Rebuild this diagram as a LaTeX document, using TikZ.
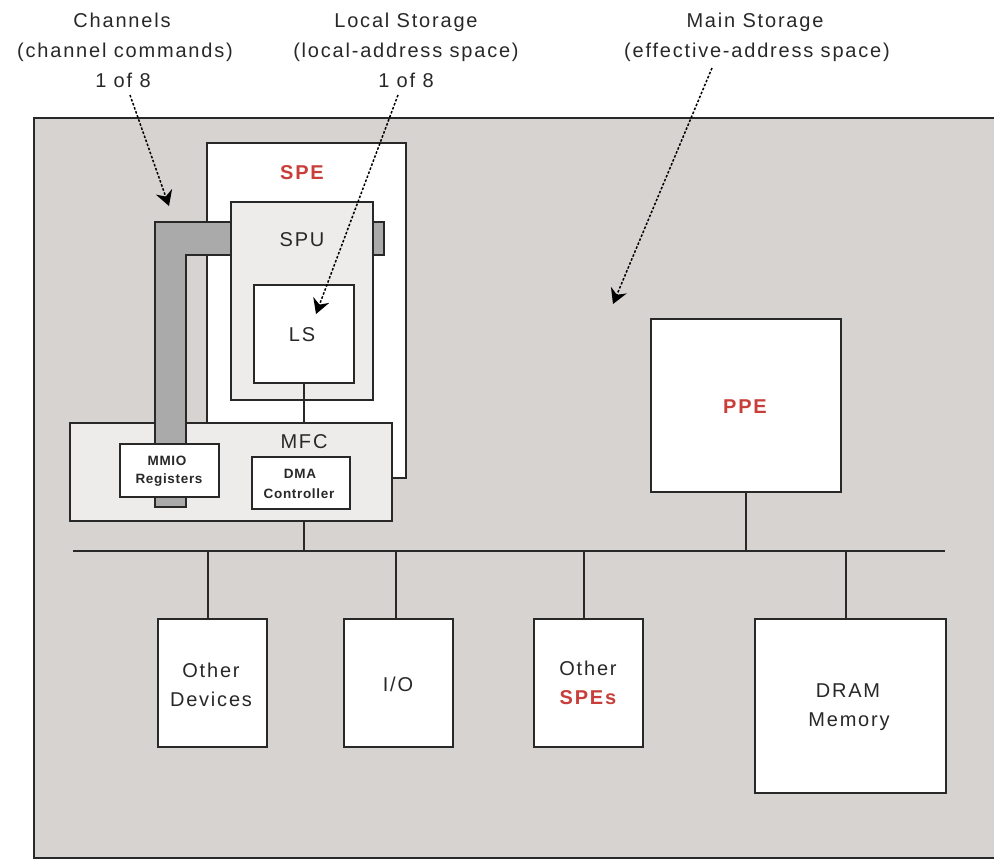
\documentclass[tikz,border=0pt]{standalone}
\usepackage{fontspec}
\setmainfont{Liberation Sans}
\newfontfamily\labfont{Liberation Sans}[LetterSpace=9]
\newfontfamily\smallfont{Liberation Sans}[LetterSpace=5]
\usetikzlibrary{arrows.meta}
\definecolor{bggray}{RGB}{214,211,208}
\definecolor{lightfill}{RGB}{237,236,235}
\definecolor{bargray}{RGB}{170,170,170}
\definecolor{linecol}{RGB}{40,40,40}
\definecolor{textcol}{RGB}{40,40,40}
\definecolor{redtext}{RGB}{200,62,58}
\tikzset{
  box/.style={draw=linecol, line width=1.8pt, rectangle, anchor=north west, inner sep=0pt},
  whitebox/.style={box, fill=white},
  greybox/.style={box, fill=lightfill},
  conn/.style={draw=linecol, line width=1.8pt},
  lab/.style={font=\labfont\fontsize{20}{30}\selectfont, text=textcol, anchor=base, inner sep=0pt},
  redlab/.style={font=\labfont\bfseries\fontsize{20}{30}\selectfont, text=redtext, anchor=base, inner sep=0pt},
  smalllab/.style={font=\smallfont\bfseries\fontsize{13.5}{20}\selectfont, text=textcol, anchor=base, inner sep=0pt},
  dasharrow/.style={draw=black, line width=1.5pt, dash pattern=on 2.5pt off 1.8pt,
     -{Stealth[length=15pt,width=17pt,inset=5pt]}},
}
\begin{document}
\begin{tikzpicture}[x=1pt,y=-1pt]
\useasboundingbox (0,0) rectangle (994,860);
\begin{scope}
\clip (0,0) rectangle (994,860);
% main storage background
\draw[draw=linecol, line width=2pt, fill=bggray] (34,118) rectangle (1010,858);
\end{scope}

% top labels
\node[lab] (ch1) at (122,27) {Channels};
\node[lab] (ch2) at (125,57) {(channel commands)};
\node[lab] (ch3) at (123,87) {1 of 8};
\node[lab] (ls1) at (406,27) {Local Storage};
\node[lab] (ls2) at (406,57) {(local-address space)};
\node[lab] (ls3) at (406,87) {1 of 8};
\node[lab] (ms1) at (755,27) {Main Storage};
\node[lab] (ms2) at (757,57) {(effective-address space)};

% SPE
\node[whitebox, minimum width=199pt, minimum height=335pt] (spe) at (206,142) {};
\node[redlab] (spelab) at (302,179) {SPE};

% MFC
\node[greybox, minimum width=322pt, minimum height=98pt] (mfc) at (69,422) {};
\node[lab] (mfclab) at (304,448) {MFC};

% channel bar
\draw[draw=linecol, line width=1.8pt, fill=bargray]
  (155,507) -- (155,222) -- (384,222) -- (384,255) -- (186,255) -- (186,507) -- cycle;

% SPU and LS
\node[greybox, minimum width=142pt, minimum height=198pt] (spu) at (230,201) {};
\node[lab] (spulab) at (302,246) {SPU};
\node[whitebox, minimum width=100pt, minimum height=98pt] (ls) at (253,284) {};
\node[lab] (lslab) at (302,341) {LS};

% MMIO and DMA
\node[whitebox, minimum width=99pt, minimum height=53pt] (mmio) at (119,443) {};
\node[smalllab] (mmio1) at (167,465) {MMIO};
\node[smalllab] (mmio2) at (169,483) {Registers};
\node[whitebox, minimum width=98pt, minimum height=52pt] (dma) at (251,456) {};
\node[smalllab] (dma1) at (300,478) {DMA};
\node[smalllab] (dma2) at (299,498) {Controller};

% PPE
\node[whitebox, minimum width=190pt, minimum height=173pt] (ppe) at (650,318) {};
\node[redlab] (ppelab) at (745,413) {PPE};

% bottom boxes
\node[whitebox, minimum width=109pt, minimum height=128pt] (odev) at (157,618) {};
\node[lab] (odev1) at (211,677) {Other};
\node[lab] (odev2) at (211,706) {Devices};
\node[whitebox, minimum width=109pt, minimum height=128pt] (io) at (343,618) {};
\node[lab] (iolab) at (398,691) {I/O};
\node[whitebox, minimum width=109pt, minimum height=128pt] (ospe) at (533,618) {};
\node[lab] (ospe1) at (588,675) {Other};
\node[redlab] (ospe2) at (588,704) {SPEs};
\node[whitebox, minimum width=191pt, minimum height=174pt] (dram) at (754,618) {};
\node[lab] (dram1) at (848,697) {DRAM};
\node[lab] (dram2) at (849,726) {Memory};

% bus
\coordinate (busL) at (73,551);
\coordinate (busR) at (945,551);
\draw[conn] (busL) -- (busR);

% connectors
\draw[conn] (ls.south) -- (ls.south |- mfc.north);
\draw[conn] (mfc.south -| 304,0) -- (304,551);
\draw[conn] (ppe.south) -- (ppe.south |- busL);
\draw[conn] (odev.north -| 208,0) -- (208,551);
\draw[conn] (io.north -| 396,0) -- (396,551);
\draw[conn] (ospe.north -| 584,0) -- (584,551);
\draw[conn] (dram.north -| 846,0) -- (846,551);

% arrows
\coordinate (chS) at (130,95);
\coordinate (chE) at (169,206);
\coordinate (lsS) at (398,95);
\coordinate (lsE) at (316,314);
\coordinate (msS) at (712,68);
\coordinate (msE) at (613,304);
\draw[dasharrow] (chS) -- (chE);
\draw[dasharrow] (lsS) -- (lsE);
\draw[dasharrow] (msS) -- (msE);
\end{tikzpicture}
\end{document}
